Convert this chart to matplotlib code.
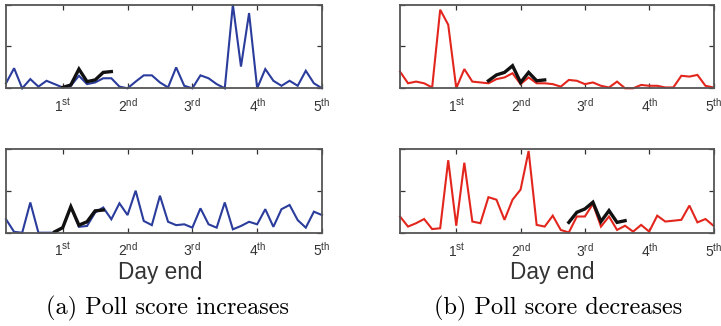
import numpy as np
import matplotlib
matplotlib.use("Agg")
import matplotlib.pyplot as plt

plt.rcParams['mathtext.fontset'] = 'custom'
plt.rcParams['mathtext.rm'] = 'Liberation Sans'
plt.rcParams['font.family'] = ['Liberation Sans', 'DejaVu Sans']

# sample times: every 3 hours over five days (in days)
t = np.arange(1, 41) / 8.0

day_ticks = [1, 2, 3, 4, 5]
day_labels = [r'1$^{\rm st}$', r'2$^{\rm nd}$', r'3$^{\rm rd}$', r'4$^{\rm th}$', r'5$^{\rm th}$']

inc_top = [0.06, 0.24, 0.0, 0.11, 0.02, 0.09, 0.05, 0.01, 0.03, 0.15,
           0.05, 0.07, 0.12, 0.12, 0.02, 0.0, 0.08, 0.155, 0.155, 0.07,
           0.01, 0.25, 0.03, 0.0, 0.155, 0.12, 0.05, 0.0, 1.0, 0.26,
           0.90, 0.0, 0.23, 0.09, 0.03, 0.09, 0.03, 0.21, 0.06, 0.0]
inc_top_black = [0.01, 0.04, 0.23, 0.08, 0.10, 0.19, 0.20]
inc_top_start = 8

inc_bot = [0.16, 0.01, 0.0, 0.36, 0.0, 0.0, 0.0, 0.06, 0.31, 0.07,
           0.08, 0.24, 0.30, 0.16, 0.35, 0.21, 0.50, 0.14, 0.09, 0.44,
           0.13, 0.09, 0.10, 0.06, 0.29, 0.10, 0.06, 0.36, 0.04, 0.08,
           0.13, 0.10, 0.28, 0.07, 0.28, 0.33, 0.15, 0.06, 0.25, 0.21]
inc_bot_black = [0.01, 0.06, 0.31, 0.09, 0.13, 0.26, 0.27]
inc_bot_start = 7

dec_top = [0.20, 0.06, 0.08, 0.06, 0.01, 0.94, 0.76, 0.0, 0.23, 0.08,
           0.07, 0.06, 0.11, 0.13, 0.18, 0.05, 0.13, 0.06, 0.06, 0.05,
           0.02, 0.10, 0.09, 0.05, 0.07, 0.03, 0.01, 0.08, 0.0, 0.0,
           0.04, 0.03, 0.03, 0.01, 0.01, 0.15, 0.14, 0.16, 0.03, 0.01]
dec_top_black = [0.09, 0.16, 0.19, 0.27, 0.07, 0.19, 0.09, 0.10]
dec_top_start = 12

dec_bot = [0.20, 0.08, 0.12, 0.17, 0.05, 0.06, 0.87, 0.09, 0.84, 0.14,
           0.12, 0.43, 0.40, 0.16, 0.40, 0.52, 0.98, 0.10, 0.08, 0.21,
           0.04, 0.01, 0.20, 0.20, 0.35, 0.08, 0.20, 0.04, 0.09, 0.02,
           0.10, 0.02, 0.21, 0.14, 0.15, 0.16, 0.33, 0.13, 0.17, 0.09]
dec_bot_black = [0.13, 0.25, 0.29, 0.37, 0.14, 0.27, 0.13, 0.15]
dec_bot_start = 22

BLUE = '#2a3c9c'
RED = '#e3261d'
AXC = '#555555'

W, H = 721, 326
fig = plt.figure(figsize=(W / 100, H / 100), dpi=100)


def px_axes(left, top, right, bottom):
    return fig.add_axes([left / W, 1 - bottom / H, (right - left) / W, (bottom - top) / H])


def draw(ax, series, black, start, color):
    ax.plot(t, series, color=color, lw=1.5, solid_joinstyle='miter', clip_on=False)
    idx = np.arange(start, start + len(black))
    ax.plot(t[idx - 1], black, color='#111111', lw=2.4, solid_joinstyle='miter')
    ax.set_xlim(t[0], 5)
    ax.set_ylim(0, 1)
    ax.set_xticks(day_ticks)
    ax.set_xticklabels(day_labels, fontsize=10, color='#333333')
    ax.set_yticks([0, 0.5, 1])
    ax.set_yticklabels([])
    ax.tick_params(direction='in', length=3.5, width=0.9, color='#333333',
                   top=True, right=True, pad=6)
    for s in ax.spines.values():
        s.set_color(AXC)
        s.set_linewidth(1.3)


a1 = px_axes(6, 4.7, 322, 88.3)
draw(a1, inc_top, inc_top_black, inc_top_start, BLUE)
a2 = px_axes(6, 148.7, 322, 232.7)
draw(a2, inc_bot, inc_bot_black, inc_bot_start, BLUE)
b1 = px_axes(400, 4.7, 713.5, 88.3)
draw(b1, dec_top, dec_top_black, dec_top_start, RED)
b2 = px_axes(400, 149.3, 713.5, 233.3)
draw(b2, dec_bot, dec_bot_black, dec_bot_start, RED)

fig.text(160 / W, 1 - 273 / H, 'Day end', ha='center', va='center',
         fontsize=16.3, color='#333333')
fig.text(552 / W, 1 - 273 / H, 'Day end', ha='center', va='center',
         fontsize=16.3, color='#333333')

fig.text(167 / W, 1 - 308 / H, '(a) Poll score increases',
         ha='center', va='center', fontsize=17.5, family='cmr10')
fig.text(558 / W, 1 - 308 / H, '(b) Poll score decreases',
         ha='center', va='center', fontsize=17.5, family='cmr10')

fig.savefig('out.png', dpi=100)
